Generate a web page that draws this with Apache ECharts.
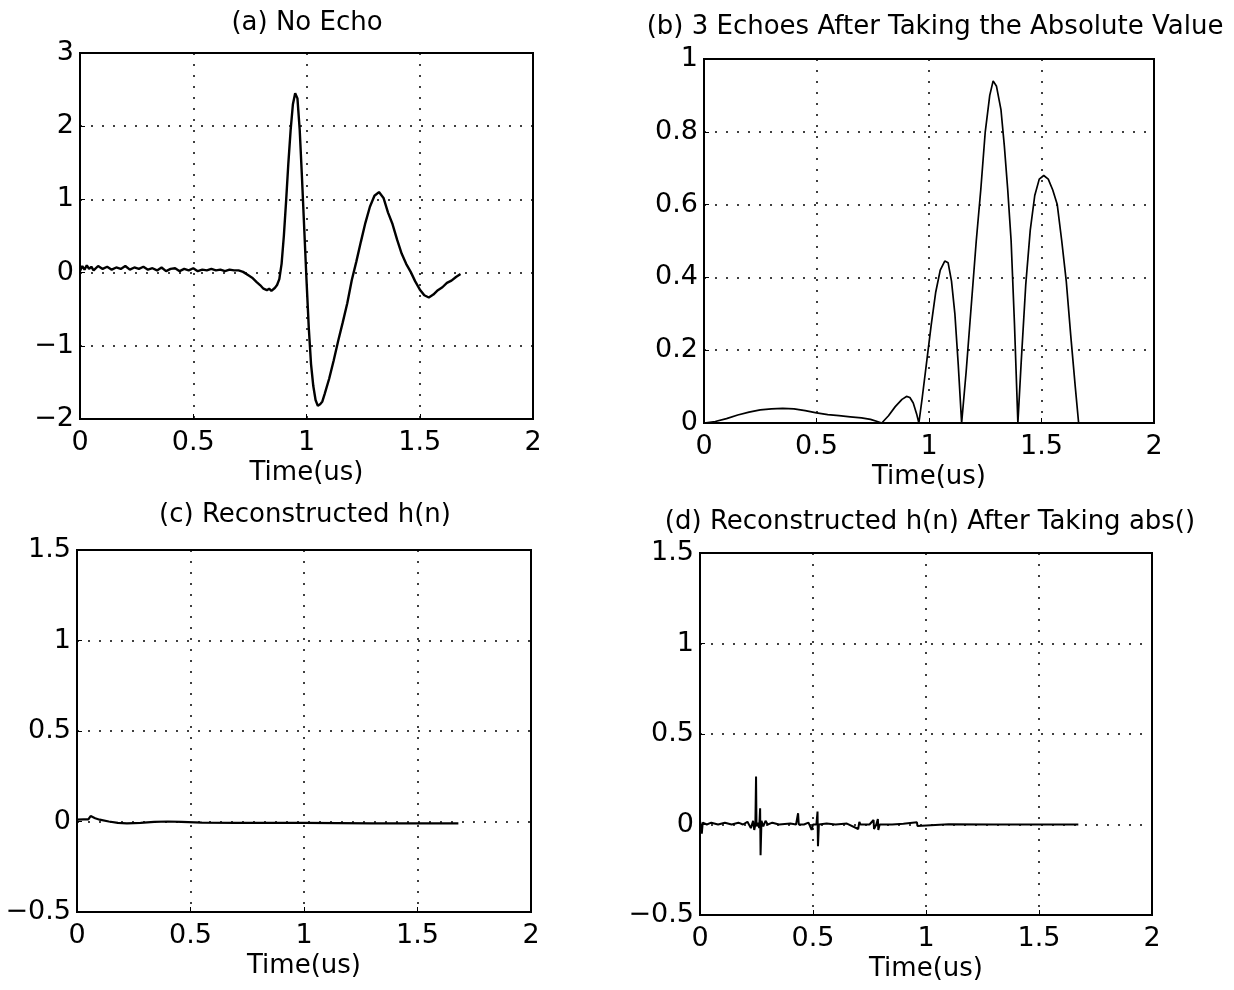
<!DOCTYPE html>
<html>
<head>
<meta charset="utf-8">
<script src="https://cdn.jsdelivr.net/npm/echarts@6/dist/echarts.min.js"></script>
<style>
  html, body { margin: 0; padding: 0; background: #fff; }
  #chart { width: 1234px; height: 990px; }
</style>
</head>
<body>
<div id="chart"></div>
<script>
// (a) No Echo
const timeA = [0, 0.01, 0.02, 0.03, 0.04, 0.05, 0.06, 0.08, 0.10, 0.12, 0.14, 0.16, 0.18, 0.20,
  0.22, 0.24, 0.26, 0.28, 0.30, 0.32, 0.34, 0.36, 0.38, 0.40, 0.42, 0.44, 0.46, 0.48, 0.50,
  0.52, 0.54, 0.56, 0.58, 0.60, 0.62, 0.64, 0.66, 0.68, 0.70, 0.72, 0.745, 0.76, 0.78, 0.795,
  0.81, 0.825, 0.835, 0.845, 0.86, 0.87, 0.88, 0.89, 0.90, 0.91, 0.92, 0.93, 0.94, 0.95, 0.96,
  0.97, 0.98, 0.99, 1.00, 1.01, 1.02, 1.03, 1.04, 1.05, 1.06, 1.07, 1.08, 1.10, 1.12, 1.14,
  1.16, 1.18, 1.20, 1.22, 1.24, 1.26, 1.28, 1.30, 1.32, 1.34, 1.36, 1.38, 1.40, 1.42, 1.44,
  1.46, 1.48, 1.50, 1.52, 1.54, 1.56, 1.58, 1.60, 1.62, 1.64, 1.66, 1.68]
const valueA = [0.02, 0.09, 0.04, 0.10, 0.05, 0.08, 0.03, 0.09, 0.05, 0.08, 0.04, 0.07, 0.05, 0.09,
  0.04, 0.07, 0.05, 0.08, 0.04, 0.06, 0.03, 0.07, 0.02, 0.05, 0.06, 0.02, 0.05, 0.03, 0.06,
  0.02, 0.04, 0.03, 0.05, 0.03, 0.04, 0.02, 0.04, 0.03, 0.03, 0.01, -0.04, -0.07, -0.13, -0.17,
  -0.22, -0.24, -0.22, -0.25, -0.21, -0.17, -0.09, 0.12, 0.5, 0.98, 1.5, 1.95, 2.3, 2.45, 2.38,
  1.95, 1.3, 0.6, -0.1, -0.75, -1.25, -1.55, -1.74, -1.82, -1.80, -1.76, -1.66, -1.45, -1.2, -0.93,
  -0.68, -0.42, -0.1, 0.15, 0.42, 0.68, 0.9, 1.05, 1.10, 1.02, 0.82, 0.66, 0.45, 0.26, 0.12,
  0.01, -0.12, -0.23, -0.31, -0.34, -0.3, -0.24, -0.2, -0.14, -0.11, -0.06, -0.02]

// (b) 3 Echoes After Taking the Absolute Value
const timeB = [0, 0.05, 0.10, 0.15, 0.20, 0.25, 0.30, 0.35, 0.40, 0.45, 0.50, 0.55, 0.60, 0.65,
  0.70, 0.74, 0.77, 0.79, 0.82, 0.85, 0.88, 0.90, 0.915, 0.93, 0.945, 0.955, 0.97, 0.99, 1.01,
  1.03, 1.05, 1.07, 1.085, 1.10, 1.115, 1.13, 1.145, 1.165, 1.19, 1.21, 1.23, 1.25, 1.27, 1.285,
  1.30, 1.32, 1.335, 1.35, 1.365, 1.38, 1.395, 1.41, 1.43, 1.45, 1.47, 1.49, 1.51, 1.53, 1.55,
  1.57, 1.59, 1.61, 1.63, 1.65, 1.665, 1.68]
const valueB = [0, 0.004, 0.012, 0.022, 0.03, 0.036, 0.039, 0.04, 0.039, 0.034, 0.028, 0.023, 0.02, 0.017,
  0.014, 0.01, 0.004, 0, 0.02, 0.045, 0.065, 0.073, 0.07, 0.055, 0.025, 0, 0.07, 0.17, 0.27,
  0.36, 0.42, 0.445, 0.44, 0.39, 0.3, 0.16, 0, 0.14, 0.34, 0.5, 0.64, 0.8, 0.9, 0.94,
  0.925, 0.86, 0.76, 0.64, 0.5, 0.27, 0, 0.17, 0.38, 0.53, 0.625, 0.67, 0.68, 0.67, 0.64,
  0.6, 0.5, 0.39, 0.24, 0.1, 0, 0]

// (c) Reconstructed h(n)
const timeC = [0, 0.03, 0.05, 0.06, 0.08, 0.10, 0.14, 0.18, 0.22, 0.28, 0.34, 0.40, 0.46, 0.55,
  0.70, 1.00, 1.30, 1.68]
const valueC = [0.01, 0.012, 0.012, 0.03, 0.018, 0.01, 0, -0.008, -0.01, -0.008, -0.002, 0, -0.002, -0.006,
  -0.008, -0.008, -0.01, -0.01]

// (d) Reconstructed h(n) After Taking abs()
const timeD = [0, 0.004, 0.008, 0.012, 0.03, 0.05, 0.08, 0.11, 0.14, 0.17, 0.19, 0.21, 0.225, 0.235,
  0.24, 0.245, 0.248, 0.250, 0.256, 0.262, 0.266, 0.268, 0.272, 0.28, 0.29, 0.30, 0.32, 0.35,
  0.40, 0.425, 0.434, 0.437, 0.46, 0.48, 0.494, 0.50, 0.515, 0.520, 0.522, 0.526, 0.56, 0.60,
  0.65, 0.70, 0.705, 0.71, 0.75, 0.768, 0.770, 0.78, 0.787, 0.789, 0.795, 0.85, 0.90, 0.96,
  0.962, 0.97, 1.10, 1.30, 1.50, 1.674]
const valueD = [0.02, 0.02, -0.05, 0.01, 0, 0.01, 0, 0.01, 0, 0.01, 0, 0.015, -0.02, 0.02,
  -0.03, 0, 0.265, -0.01, 0.01, -0.02, 0.09, -0.17, 0.02, -0.01, 0.02, 0, 0.01, 0,
  0.005, 0, 0.062, 0, 0, 0.01, -0.03, 0, 0, 0.072, -0.12, 0, 0.005, 0,
  0.005, -0.025, 0.015, 0, 0, 0.025, -0.025, 0, 0.03, -0.03, 0, 0, 0.004, 0.012,
  -0.008, 0, 0.002, 0, 0, 0]

const titles = ['(a) No Echo', '(b) 3 Echoes After Taking the Absolute Value',
  '(c) Reconstructed h(n)', '(d) Reconstructed h(n) After Taking abs()']

const FONT = 'DejaVu Sans'

const grids = [
  { left: 80, top: 53, width: 453, height: 366 },
  { left: 704, top: 59, width: 450, height: 364 },
  { left: 77, top: 550, width: 454, height: 362 },
  { left: 700, top: 553, width: 452, height: 362 }
]
const yRanges = [[-2, 3, 1], [0, 1, 0.2], [-0.5, 1.5, 0.5], [-0.5, 1.5, 0.5]]
const titlePos = [[307, 25], [935, 29], [305, 517], [930, 524]]

function zip(xs, ys) {
  return xs.map((x, i) => [x, ys[i]])
}

const dotted = { color: '#000', width: 1.5, type: [2, 9] }
const fmt = v => String(+v.toFixed(2)).replace('-', '\u2212')

const chart = echarts.init(document.getElementById('chart'))

const option = {
  backgroundColor: '#fff',
  animation: false,
  title: titles.map((t, i) => ({
    text: t,
    left: titlePos[i][0],
    top: titlePos[i][1] - 15,
    textAlign: 'center',
    padding: 0,
    textStyle: { fontFamily: FONT, fontSize: 26, fontWeight: 'normal', color: '#000' }
  })),
  grid: grids.map(g => Object.assign({ show: true, borderColor: '#000', borderWidth: 2 }, g)),
  xAxis: grids.map((g, i) => ({
    type: 'value',
    gridIndex: i,
    min: 0,
    max: 2,
    interval: 0.5,
    name: 'Time(us)',
    nameLocation: 'middle',
    nameGap: 41,
    nameTextStyle: { fontFamily: FONT, fontSize: 26, color: '#000' },
    axisLine: { onZero: false, lineStyle: { color: '#000', width: 2 } },
    axisTick: { inside: true, length: 5, lineStyle: { color: '#000' } },
    axisLabel: { margin: 10, fontFamily: FONT, fontSize: 27, color: '#000', formatter: fmt },
    splitLine: { show: true, lineStyle: dotted }
  })),
  yAxis: grids.map((g, i) => ({
    type: 'value',
    gridIndex: i,
    min: yRanges[i][0],
    max: yRanges[i][1],
    interval: yRanges[i][2],
    axisLine: { onZero: false, lineStyle: { color: '#000', width: 2 } },
    axisTick: { inside: true, length: 5, lineStyle: { color: '#000' } },
    axisLabel: { margin: 6, fontFamily: FONT, fontSize: 27, color: '#000', formatter: fmt },
    splitLine: { show: true, lineStyle: dotted }
  })),
  series: [
    [timeA, valueA, 2.4],
    [timeB, valueB, 1.7],
    [timeC, valueC, 2.2],
    [timeD, valueD, 2]
  ].map((s, i) => ({
    type: 'line',
    xAxisIndex: i,
    yAxisIndex: i,
    data: zip(s[0], s[1]),
    showSymbol: false,
    lineStyle: { color: '#000', width: s[2] }
  }))
}

chart.setOption(option)
</script>
</body>
</html>
